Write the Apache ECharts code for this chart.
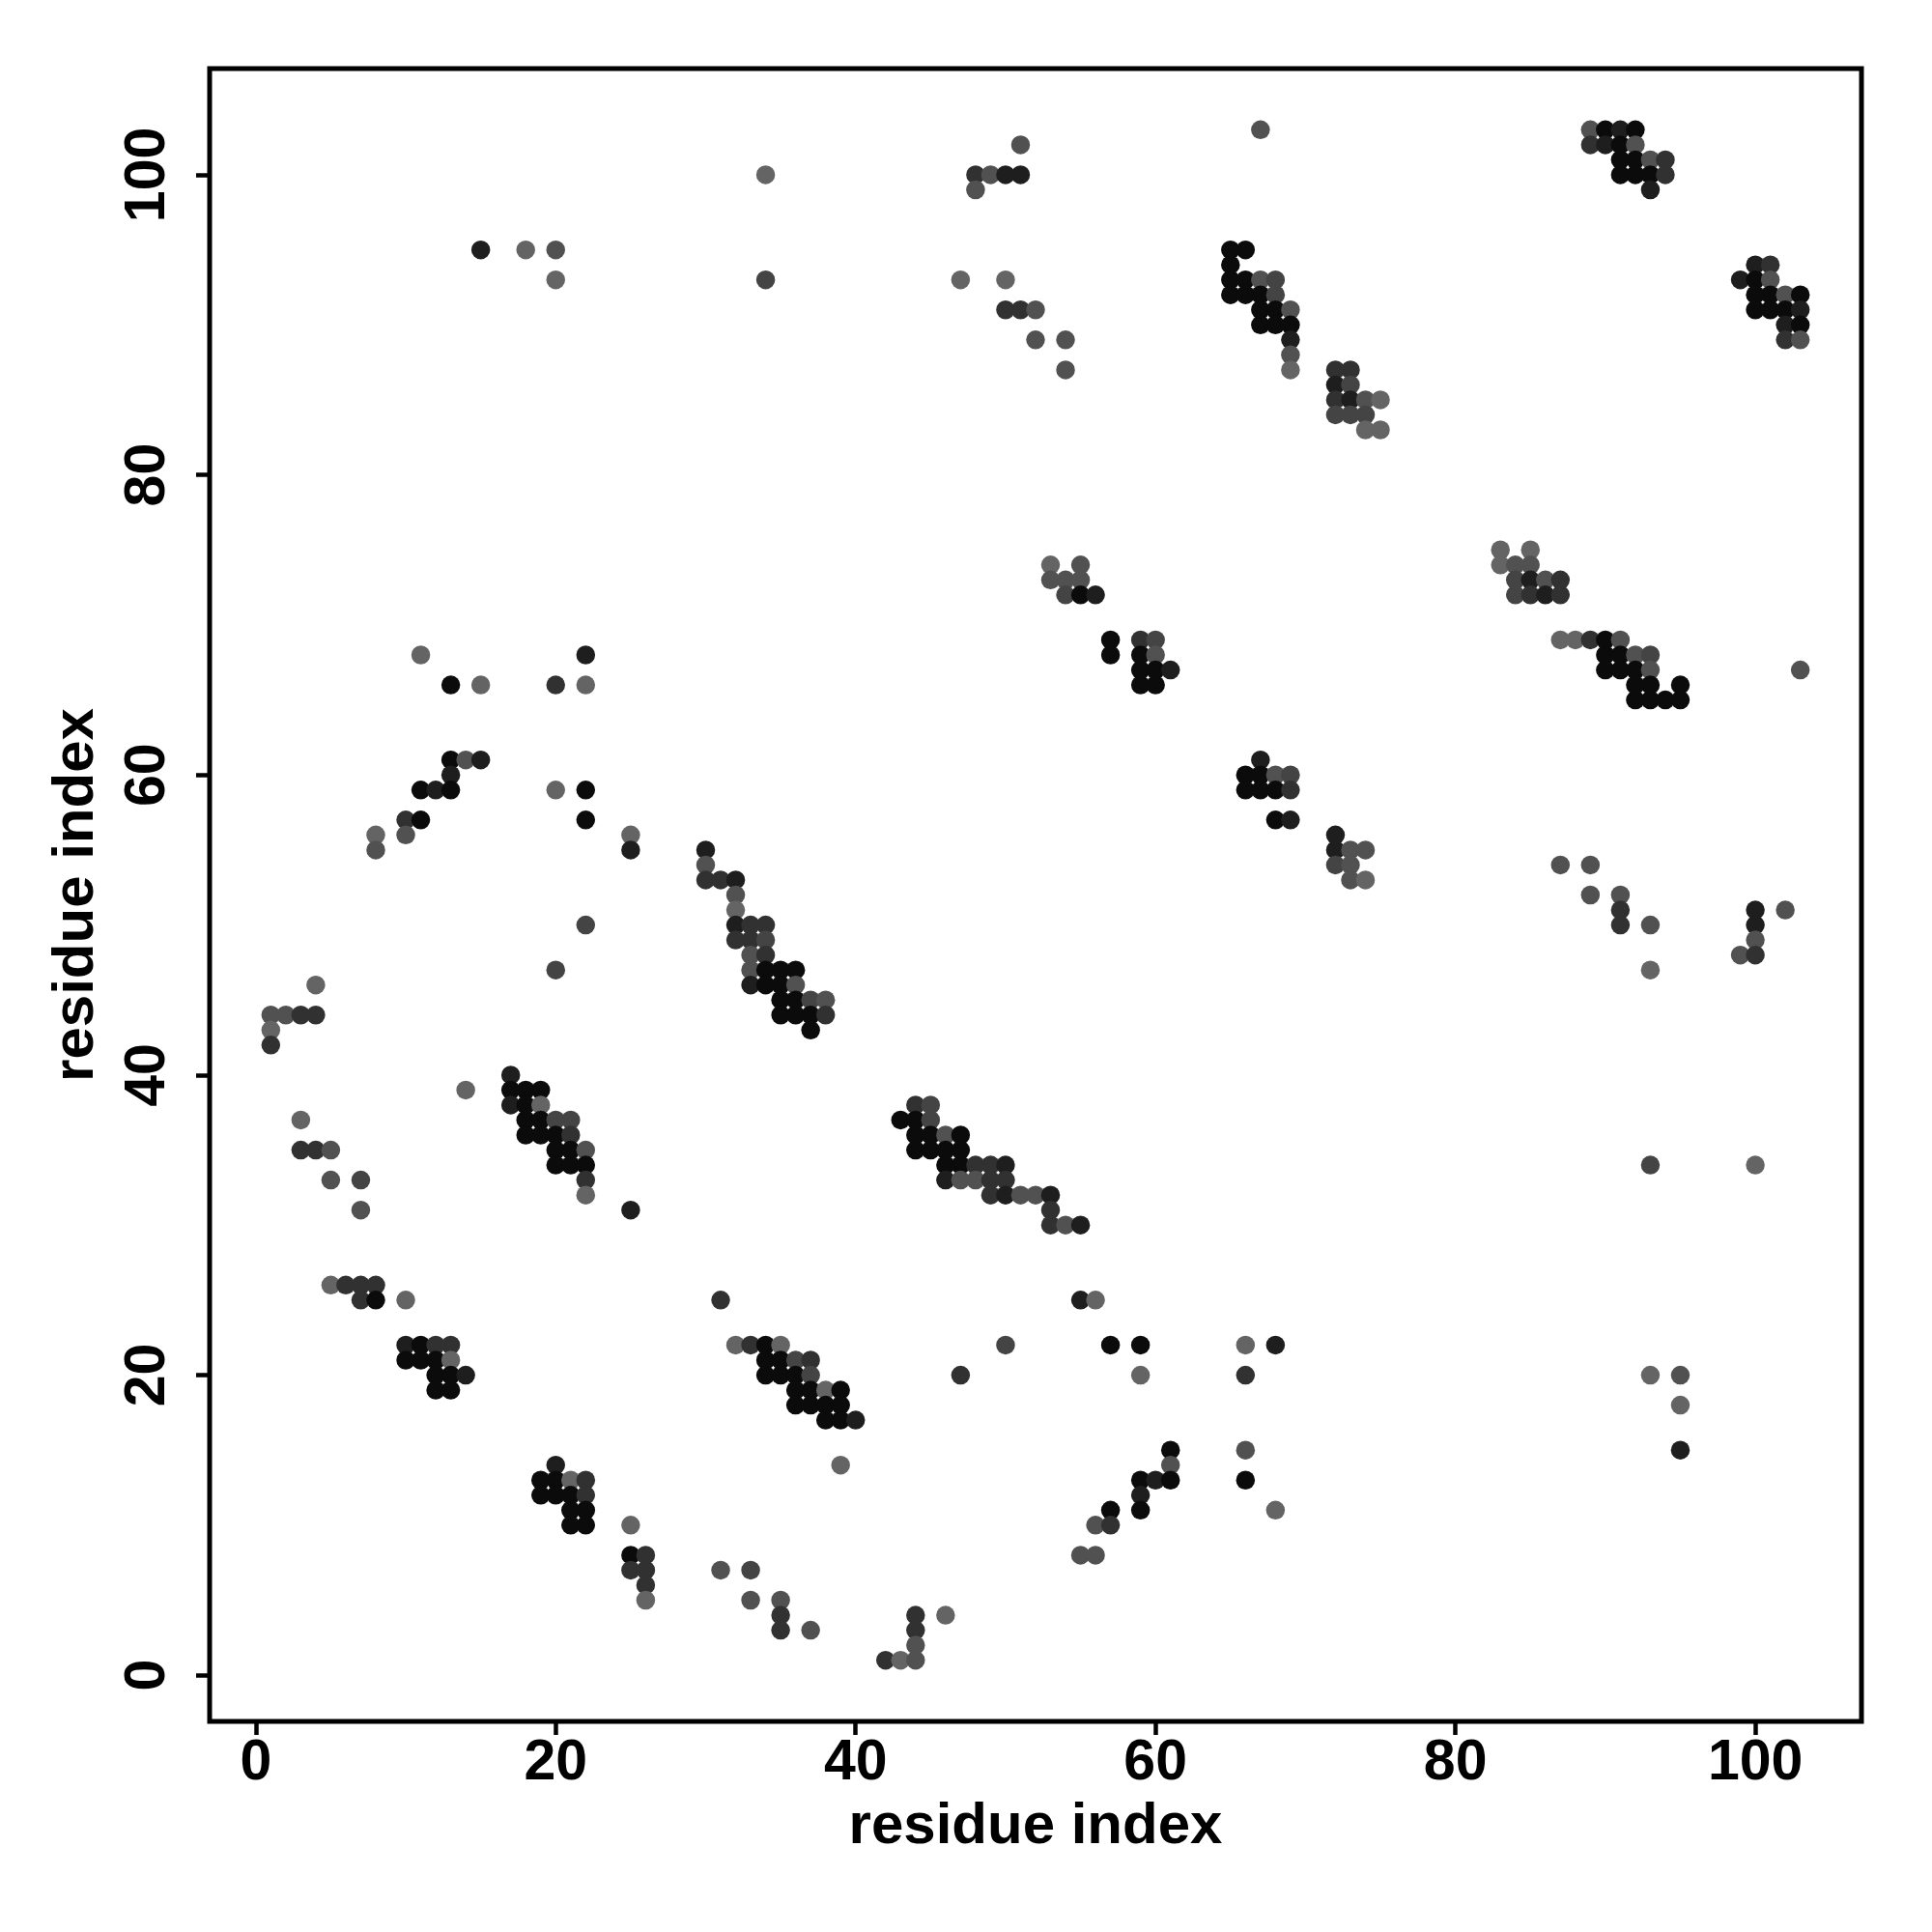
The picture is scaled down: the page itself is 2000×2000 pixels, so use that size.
<!DOCTYPE html>
<html>
<head>
<meta charset="utf-8">
<script src="https://cdn.jsdelivr.net/npm/echarts@6/dist/echarts.min.js"></script>
<style>html,body{margin:0;padding:0;background:#fff}#c{width:2000px;height:2000px}</style>
</head>
<body>
<div id="c"></div>
<script>
// Tick labels
const tickValues = [0, 20, 40, 60, 80, 100];
// Row (residue j) of each group of contacts
const rowJ = [103,102,101,100,99,95,94,93,92,91,90,89,88,87,86,85,84,83,75,74,73,72,69,68,67,66,65,61,60,59,57,56,55,54,53,52,51,50,49,48,47,46,45,44,43,42,40,39,38,37,36,35,34,33,32,31,30,26,25,22,21,20,19,18,17,15,14,13,12,11,10,8,7,6,5,4,3,2,1];
// Residue i of each contact, per row
const rowI = [
[67,89,90,91,92],
[51,89,90,91,92],
[91,92,93,94],
[34,48,49,50,51,91,92,93,94],
[48,93],
[15,18,20,65,66],
[65,100,101],
[20,34,47,50,65,66,67,68,99,100,101],
[65,66,67,68,100,101,102,103],
[50,51,52,67,68,69,100,101,102,103],
[67,68,69,102,103],
[52,54,69,102,103],
[69],
[54,69,72,73],
[72,73],
[72,73,74,75],
[72,73,74],
[74,75],
[83,85],
[53,55,83,84,85],
[53,54,55,84,85,86,87],
[54,55,56,84,85,86,87],
[57,59,60,87,88,89,90,91],
[11,22,57,59,60,90,91,92,93],
[59,60,61,90,91,92,93,103],
[13,15,20,22,59,60,92,93,95],
[92,93,94,95],
[13,14,15,67],
[13,66,67,68,69],
[11,12,13,20,22,66,67,68,69],
[10,11,22,68,69],
[8,10,25,72],
[8,25,30,72,73,74],
[30,72,73,87,89],
[30,31,32,73,74],
[32,89,91],
[32,91,100,102],
[22,32,33,34,91,93,100],
[32,33,34,100],
[33,34,99,100],
[20,33,34,35,36,93],
[4,33,34,35,36],
[35,36,37,38],
[1,2,3,4,35,36,37,38],
[1,37],
[1],
[17],
[14,17,18,19],
[17,18,19,44,45],
[3,18,19,20,21,43,44,45],
[18,19,20,21,44,45,46,47],
[3,4,5,20,21,22,44,45,46,47],
[20,21,22,46,47,48,49,50,93,100],
[5,7,22,46,47,48,49,50],
[22,49,50,51,52,53],
[7,25,53],
[53,54,55],
[5,6,7,8],
[7,8,10,31,55,56],
[10,11,12,13,32,33,34,35,50,57,59,66,68],
[10,11,12,13,34,35,36,37],
[12,13,14,34,35,36,37,47,59,66,93,95],
[12,13,36,37,38,39],
[36,37,38,39,95],
[38,39,40],
[61,66,95],
[20,39,61],
[19,20,21,22,59,60,61,66],
[19,20,21,22,59],
[21,22,57,59,68],
[21,22,25,56,57],
[25,26,55,56],
[25,26,31,33],
[26],
[26,33,35],
[35,44,46],
[35,37,44],
[44],
[42,43,44]
];
// Contact score of each contact (drives grey level), per row
const rowScore = [
[.4,.4,.95,.8,.95],
[.4,.65,.8,.95,.4],
[.95,.95,.4,.65],
[.25,.65,.4,.8,.8,.95,.95,.95,.65],
[.4,.8],
[.8,.25,.4,.95,.95],
[.95,.8,.65],
[.25,.5,.25,.25,.95,.95,.4,.5,.8,.95,.4],
[.95,.95,.95,.5,.95,.95,.4,.95],
[.65,.65,.4,.95,.95,.4,.95,.95,.95,.8],
[.95,.95,.95,.8,.95],
[.4,.4,.8,.65,.4],
[.4],
[.4,.25,.65,.65],
[.8,.5],
[.65,.8,.4,.25],
[.5,.5,.5],
[.25,.25],
[.25,.25],
[.25,.4,.25,.4,.4],
[.4,.4,.4,.5,.8,.4,.65],
[.5,.95,.8,.5,.65,.8,.65],
[.95,.65,.5,.25,.25,.65,.95,.4],
[.25,.8,.95,.95,.4,.95,.95,.4,.5],
[.95,.95,.8,.95,.95,.95,.4,.4],
[.95,.25,.65,.25,.95,.95,.95,.95,.95],
[.95,.95,.95,.95],
[.95,.4,.8,.8],
[.8,.95,.95,.4,.5],
[.95,.8,.95,.25,.95,.95,.95,.95,.65],
[.65,.95,.95,.95,.8],
[.25,.4,.25,.8],
[.4,.8,.8,.8,.4,.4],
[.4,.5,.4,.4,.4],
[.65,.65,.8,.4,.25],
[.4,.4,.4],
[.25,.65,.8,.4],
[.5,.8,.65,.65,.65,.4,.8],
[.65,.65,.5,.4],
[.4,.65,.4,.65],
[.5,.4,.95,.95,.95,.25],
[.25,.8,.95,.95,.4],
[.95,.95,.5,.4],
[.4,.4,.65,.65,.95,.95,.95,.65],
[.25,.95],
[.65],
[.8],
[.25,.95,.95,.95],
[.8,.95,.25,.65,.5],
[.25,.95,.95,.5,.5,.95,.95,.5],
[.95,.95,.95,.65,.95,.95,.4,.95],
[.65,.65,.4,.95,.95,.4,.95,.95,.95,.95],
[.95,.95,.95,.95,.95,.65,.65,.8,.5,.25],
[.4,.5,.65,.8,.4,.4,.65,.65],
[.25,.65,.8,.4,.4,.8],
[.4,.8,.65],
[.65,.4,.8],
[.25,.65,.65,.65],
[.65,.95,.25,.65,.8,.25],
[.8,.95,.65,.65,.25,.65,.95,.25,.5,.95,.95,.25,.8],
[.95,.95,.95,.25,.95,.95,.5,.65],
[.95,.95,.8,.95,.95,.95,.5,.65,.25,.65,.25,.4],
[.95,.95,.95,.95,.25,.95],
[.95,.95,.95,.95,.25],
[.95,.95,.8],
[.95,.4,.8],
[.8,.25,.4],
[.95,.95,.25,.65,.95,.8,.95,.95],
[.95,.95,.95,.65,.8],
[.95,.95,.95,.95,.25],
[.95,.95,.25,.4,.65],
[.95,.65,.4,.4],
[.65,.65,.4,.5],
[.65],
[.25,.4,.4],
[.65,.65,.25],
[.65,.4,.65],
[.4],
[.65,.25,.4]
];

const points = [];
rowJ.forEach((j, r) => {
  rowI[r].forEach((i, k) => points.push([i, j, rowScore[r][k]]));
});

const FONT = '"Liberation Sans", Arial, Helvetica, sans-serif';
const chart = echarts.init(document.getElementById('c'), null, {renderer: 'canvas'});
const axisCommon = {
  type: 'value', min: -3.08, max: 107.08,
  axisLine: {show: false, onZero: false},
  splitLine: {show: false},
  axisTick: {show: true, customValues: tickValues, length: 14, lineStyle: {color: '#000', width: 4.5}},
  axisLabel: {customValues: tickValues, color: '#000', fontSize: 59, fontWeight: 'bold', fontFamily: FONT},
  name: 'residue index', nameLocation: 'middle',
  nameTextStyle: {color: '#000', fontSize: 60, fontWeight: 'bold', fontFamily: FONT}
};
chart.setOption({
  animation: false,
  backgroundColor: '#fff',
  grid: {left: 217, right: 73, top: 71, bottom: 218, show: true, borderColor: '#000', borderWidth: 5, backgroundColor: 'transparent'},
  xAxis: Object.assign({}, axisCommon, {nameGap: 79, axisLabel: Object.assign({}, axisCommon.axisLabel, {margin: 14})}),
  yAxis: Object.assign({}, axisCommon, {nameGap: 108, axisLabel: Object.assign({}, axisCommon.axisLabel, {margin: 34, rotate: 90})}),
  visualMap: {show: false, dimension: 2, min: 0.2, max: 1.0, inRange: {color: ['#6a6a6a', '#050505']}},
  series: [{
    type: 'scatter', data: points, symbol: 'circle', symbolSize: 19.5,
    itemStyle: {opacity: 1}
  }]
});
</script>
</body>
</html>
